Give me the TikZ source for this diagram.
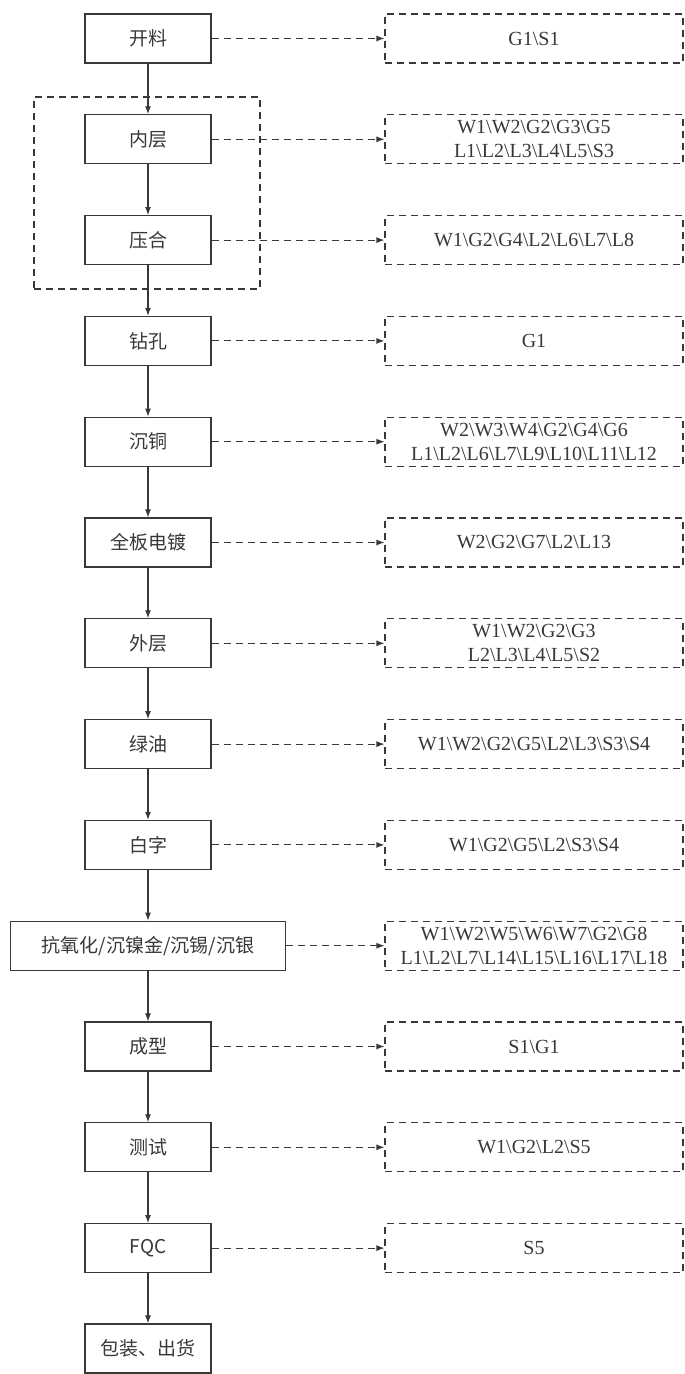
\documentclass[tikz,border=0pt]{standalone}
\usepackage{fontspec}
\setmainfont{Liberation Serif}
\newfontfamily\cjk{Noto Sans CJK SC}
\usetikzlibrary{arrows.meta}
\newcommand{\bksl}{\textbackslash}
\definecolor{ink}{gray}{0.22}
\begin{document}
\begin{tikzpicture}[x=1pt,y=-1pt,
 proc/.style={draw=ink, line width=1.1pt, minimum width=126pt, minimum height=49pt, inner sep=0pt, font=\cjk\fontsize{19}{21}\selectfont, text=ink},
 wideproc/.style={proc, minimum width=275pt},
 outbox/.style={draw=ink, dash pattern=on 7pt off 5pt, line width=1.1pt, minimum width=298pt, minimum height=49pt, inner sep=0pt, align=center, font=\fontsize{20}{24}\selectfont, text=ink},
 groupbox/.style={draw=ink, dash pattern=on 7pt off 5pt, line width=1.1pt, minimum width=226pt, minimum height=192pt, inner sep=0pt},
 flow/.style={draw=ink, line width=1.1pt, -{Latex[length=8pt,width=6pt]}},
 emit/.style={flow, dash pattern=on 7pt off 5pt},
]
\useasboundingbox (0,0) rectangle (685,1374);
\node[groupbox] (grp) at (147,193) {};
% process nodes
\node[proc] (p0) at (148,38.5) {开料};
\node[proc] (p1) at (148,139.3) {内层};
\node[proc] (p2) at (148,240.1) {压合};
\node[proc] (p3) at (148,340.9) {钻孔};
\node[proc] (p4) at (148,441.7) {沉铜};
\node[proc] (p5) at (148,542.5) {全板电镀};
\node[proc] (p6) at (148,643.3) {外层};
\node[proc] (p7) at (148,744.1) {绿油};
\node[proc] (p8) at (148,844.9) {白字};
\node[wideproc] (p9) at (148,945.7) {抗氧化/沉镍金/沉锡/沉银};
\node[proc] (p10) at (148,1046.5) {成型};
\node[proc] (p11) at (148,1147.3) {测试};
\node[proc] (p12) at (148,1248.1) {FQC};
\node[proc] (p13) at (148,1348.5) {包装、出货};
% output nodes
\node[outbox] (o0) at (534,38.5) {G1\bksl S1};
\node[outbox] (o1) at (534,139.3) {W1\bksl W2\bksl G2\bksl G3\bksl G5\\L1\bksl L2\bksl L3\bksl L4\bksl L5\bksl S3};
\node[outbox] (o2) at (534,240.1) {W1\bksl G2\bksl G4\bksl L2\bksl L6\bksl L7\bksl L8};
\node[outbox] (o3) at (534,340.9) {G1};
\node[outbox] (o4) at (534,441.7) {W2\bksl W3\bksl W4\bksl G2\bksl G4\bksl G6\\L1\bksl L2\bksl L6\bksl L7\bksl L9\bksl L10\bksl L11\bksl L12};
\node[outbox] (o5) at (534,542.5) {W2\bksl G2\bksl G7\bksl L2\bksl L13};
\node[outbox] (o6) at (534,643.3) {W1\bksl W2\bksl G2\bksl G3\\L2\bksl L3\bksl L4\bksl L5\bksl S2};
\node[outbox] (o7) at (534,744.1) {W1\bksl W2\bksl G2\bksl G5\bksl L2\bksl L3\bksl S3\bksl S4};
\node[outbox] (o8) at (534,844.9) {W1\bksl G2\bksl G5\bksl L2\bksl S3\bksl S4};
\node[outbox] (o9) at (534,945.7) {W1\bksl W2\bksl W5\bksl W6\bksl W7\bksl G2\bksl G8\\L1\bksl L2\bksl L7\bksl L14\bksl L15\bksl L16\bksl L17\bksl L18};
\node[outbox] (o10) at (534,1046.5) {S1\bksl G1};
\node[outbox] (o11) at (534,1147.3) {W1\bksl G2\bksl L2\bksl S5};
\node[outbox] (o12) at (534,1248.1) {S5};
% main flow
\foreach \a/\b in {p0/p1,p1/p2,p2/p3,p3/p4,p4/p5,p5/p6,p6/p7,p7/p8,p8/p9,p9/p10,p10/p11,p11/p12,p12/p13}
  \draw[flow] (\a.south) -- (\b.north);
% emissions
\foreach \i in {0,...,12}
  \draw[emit] (p\i.east) -- (o\i.west);
\end{tikzpicture}
\end{document}
